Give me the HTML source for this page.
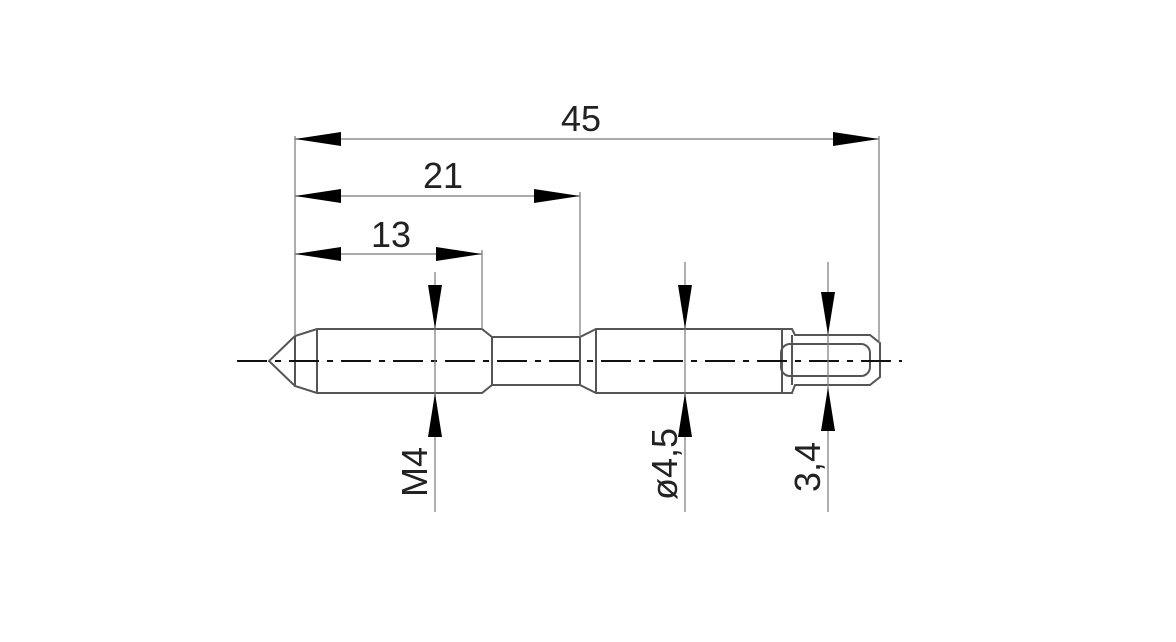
<!DOCTYPE html>
<html><head><meta charset="utf-8"><style>
html,body{margin:0;padding:0;background:#fff;}
svg{display:block;}
text{font-family:"Liberation Sans",sans-serif;fill:#222;font-size:36px;}
</style></head><body>
<svg width="1176" height="642" viewBox="0 0 1176 642" xmlns="http://www.w3.org/2000/svg">
<g fill="none" stroke="#555" stroke-width="2">
<!-- part outline -->
<path d="M295,336 L269,361 L295,386 L317,393 L482,393 L492,385 L580,385 L596,393 L792,393 L795,385 L870,385 L880,377 L880,343 L870,335 L795,335 L792,329 L596,329 L580,337 L492,337 L482,329 L317,329 Z"/>
<line x1="295" y1="336" x2="295" y2="386"/>
<line x1="317" y1="329" x2="317" y2="393"/>
<line x1="492" y1="337" x2="492" y2="385"/>
<line x1="580" y1="337" x2="580" y2="385"/>
<line x1="596" y1="329" x2="596" y2="393"/>
<line x1="782" y1="329" x2="782" y2="393"/>
<line x1="792" y1="335" x2="792" y2="385"/>
<rect x="781" y="344" width="89" height="32" rx="9"/>
</g>
<!-- center line -->
<line x1="237" y1="361" x2="902" y2="361" stroke="#111" stroke-width="2" stroke-dasharray="30,8,6,8"/>
<g stroke="#777" stroke-width="1.2">
<!-- extension lines -->
<line x1="295" y1="136" x2="295" y2="336"/>
<line x1="879" y1="136" x2="879" y2="343"/>
<line x1="580" y1="192" x2="580" y2="337"/>
<line x1="482" y1="250" x2="482" y2="329"/>
<!-- dim lines -->
<line x1="295" y1="139" x2="879" y2="139"/>
<line x1="295" y1="196" x2="580" y2="196"/>
<line x1="295" y1="254" x2="482" y2="254"/>
<line x1="435" y1="272" x2="435" y2="512"/>
<line x1="685" y1="262" x2="685" y2="512"/>
<line x1="828" y1="262" x2="828" y2="512"/>
</g>
<g fill="#000">
<polygon points="295,139 341,132 341,146"/>
<polygon points="879,139 833,132 833,146"/>
<polygon points="295,196 341,189 341,203"/>
<polygon points="580,196 534,189 534,203"/>
<polygon points="295,254 341,247 341,261"/>
<polygon points="482,254 436,247 436,261"/>
<polygon points="435,329 428,285 442,285"/>
<polygon points="435,393 428,437 442,437"/>
<polygon points="685,329 678,285 692,285"/>
<polygon points="685,393 678,437 692,437"/>
<polygon points="828,335 821,292 835,292"/>
<polygon points="828,387 821,431 835,431"/>
</g>
<text x="561" y="131">45</text>
<text x="423" y="188">21</text>
<text x="371" y="247">13</text>
<text transform="translate(427,497) rotate(-90)">M4</text>
<text transform="translate(677,500) rotate(-90)">ø4,5</text>
<text transform="translate(820,492) rotate(-90)">3,4</text>
</svg>
</body></html>
